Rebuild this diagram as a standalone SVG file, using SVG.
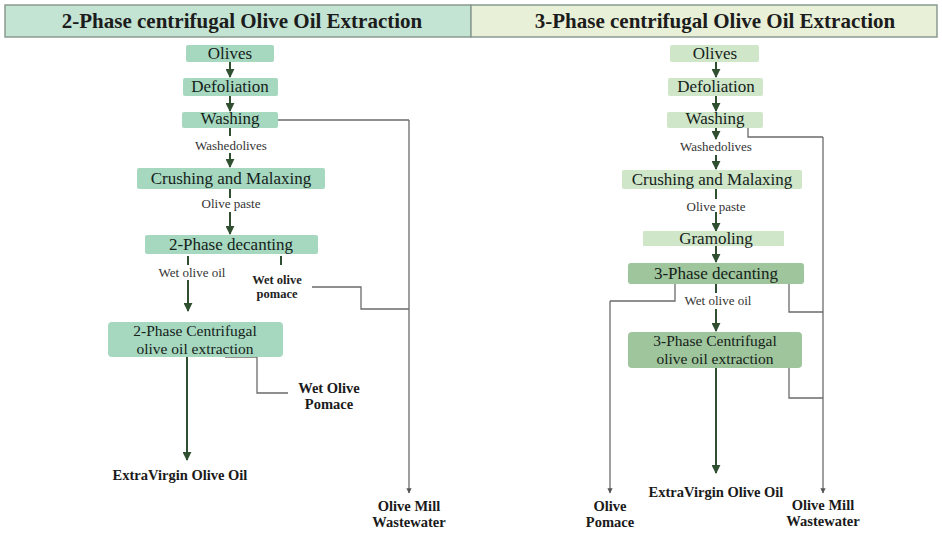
<svg xmlns="http://www.w3.org/2000/svg" width="942" height="533" viewBox="0 0 942 533">
<style>
.hdr{font-family:"Liberation Serif","Times New Roman",serif;font-weight:bold;font-size:21px;fill:#1c1c1c;text-anchor:middle}
.nt{font-family:"Liberation Serif","Times New Roman",serif;font-size:17px;fill:#15221a;text-anchor:middle}
.nt2{font-family:"Liberation Serif","Times New Roman",serif;font-size:15.5px;fill:#15221a;text-anchor:middle}
.lb{font-family:"Liberation Serif","Times New Roman",serif;font-size:13px;fill:#333;text-anchor:middle}
.lbb{font-family:"Liberation Serif","Times New Roman",serif;font-weight:bold;font-size:12.5px;fill:#222;text-anchor:middle}
.out{font-family:"Liberation Serif","Times New Roman",serif;font-weight:bold;font-size:14.5px;fill:#1a1a1a;text-anchor:middle}
.n2{fill:#a6d8c0}
.n3l{fill:#cfe6c9}
.n3d{fill:#9fc59c}
.arr{stroke:#2f4f30;stroke-width:2;fill:none;marker-end:url(#ah)}
.tick{stroke:#2f4f30;stroke-width:2;fill:none}
.gl{stroke:#6b6b6b;stroke-width:1.3;fill:none}
.gla{stroke:#6b6b6b;stroke-width:1.3;fill:none;marker-end:url(#ahs)}
</style>
<defs>
<marker id="ah" viewBox="0 0 10 10" refX="9" refY="5" markerWidth="4.5" markerHeight="4.5" orient="auto" markerUnits="strokeWidth">
<path d="M0,0 L10,5 L0,10 z" fill="#2f4f30"/>
</marker>
<marker id="ahs" viewBox="0 0 10 10" refX="9" refY="5" markerWidth="4" markerHeight="4" orient="auto" markerUnits="strokeWidth">
<path d="M0,0 L10,5 L0,10 z" fill="#555"/>
</marker>
</defs>
<rect width="942" height="533" fill="#ffffff"/>

<g id="header-2phase">
<rect x="5" y="5" width="466" height="32" fill="#c3e3d3" stroke="#8a9a90" stroke-width="1.5"/>
<text class="hdr" x="242" y="28">2-Phase centrifugal Olive Oil  Extraction</text>
</g>
<g id="header-3phase">
<rect x="471" y="5" width="466" height="32" fill="#e9f0d8" stroke="#8a9a90" stroke-width="1.5"/>
<text class="hdr" x="715" y="28">3-Phase centrifugal Olive Oil  Extraction</text>
</g>

<g id="connectors">
<path class="arr" d="M230,62 V77"/>
<path class="arr" d="M230,96 V111"/>
<path class="tick" d="M230,128 V136"/>
<path class="arr" d="M230,153 V167"/>
<path class="tick" d="M230,189 V198"/>
<path class="arr" d="M230,212 V234"/>
<path class="tick" d="M188,256 V265"/>
<path class="arr" d="M188,280 V311"/>
<path class="tick" d="M281,256 V265"/>
<path class="arr" d="M187,357 V460"/>
<path class="gl" d="M278,120 H409"/>
<path class="gla" d="M409,120 V493"/>
<path class="gl" d="M312,287 H361 V309 H409"/>
<path class="gl" d="M225,357 H257 V393 H288"/>
<path class="arr" d="M716,62 V77"/>
<path class="arr" d="M716,96 V111"/>
<path class="arr" d="M716,128 V139"/>
<path class="arr" d="M716,155 V169"/>
<path class="tick" d="M716,189 V199"/>
<path class="arr" d="M716,212 V231"/>
<path class="arr" d="M716,246 V262"/>
<path class="tick" d="M716,284 V293"/>
<path class="arr" d="M716,309 V331"/>
<path class="arr" d="M716,368 V473"/>
<path class="gl" d="M748,128 V137 H823"/>
<path class="gla" d="M823,137 V493"/>
<path class="gl" d="M675,284 V301 H610"/>
<path class="gla" d="M610,301 V493"/>
<path class="gl" d="M789,284 V312 H823"/>
<path class="gl" d="M789,368 V398 H823"/>
</g>

<g id="n2-olives"><rect class="n2" x="186" y="45" width="88" height="17" rx="2"/><text class="nt" x="230" y="59">Olives</text></g>
<g id="n2-defoliation"><rect class="n2" x="183" y="78" width="95" height="18" rx="2"/><text class="nt" x="230" y="92">Defoliation</text></g>
<g id="n2-washing"><rect class="n2" x="182" y="112" width="96" height="16" rx="2"/><text class="nt" x="230" y="124">Washing</text></g>
<g id="n2-washed-label"><text class="lb" x="231" y="150">Washedolives</text></g>
<g id="n2-crushing"><rect class="n2" x="137" y="168" width="188" height="21" rx="2"/><text class="nt" x="231" y="184">Crushing and Malaxing</text></g>
<g id="n2-paste-label"><text class="lb" x="231" y="208">Olive paste</text></g>
<g id="n2-decanting"><rect class="n2" x="145" y="235" width="173" height="19" rx="2"/><text class="nt" x="231" y="250">2-Phase decanting</text></g>
<g id="n2-wetoil-label"><text class="lb" x="192" y="277">Wet olive oil</text></g>
<g id="n2-wetpomace-label"><text class="lbb" x="277" y="284">Wet olive</text><text class="lbb" x="277" y="298">pomace</text></g>
<g id="n2-centrifugal"><rect class="n2" x="108" y="322" width="175" height="35" rx="4"/><text class="nt2" x="195" y="336">2-Phase Centrifugal</text><text class="nt2" x="195" y="354">olive oil extraction</text></g>
<g id="n2-wetolivepomace"><text class="out" x="329" y="393">Wet Olive</text><text class="out" x="329" y="409">Pomace</text></g>
<g id="n2-evoo"><text class="out" x="180" y="480">ExtraVirgin Olive Oil</text></g>
<g id="n2-omw"><text class="out" x="409" y="511">Olive Mill</text><text class="out" x="409" y="527">Wastewater</text></g>

<g id="n3-olives"><rect class="n3l" x="670" y="45" width="89" height="17" rx="2"/><text class="nt" x="715" y="59">Olives</text></g>
<g id="n3-defoliation"><rect class="n3l" x="668" y="78" width="95" height="18" rx="2"/><text class="nt" x="716" y="92">Defoliation</text></g>
<g id="n3-washing"><rect class="n3l" x="667" y="112" width="96" height="16" rx="2"/><text class="nt" x="715" y="124">Washing</text></g>
<g id="n3-washed-label"><text class="lb" x="716" y="151">Washedolives</text></g>
<g id="n3-crushing"><rect class="n3l" x="622" y="170" width="180" height="19" rx="2"/><text class="nt" x="712" y="185">Crushing and Malaxing</text></g>
<g id="n3-paste-label"><text class="lb" x="716" y="211">Olive paste</text></g>
<g id="n3-gramoling"><rect class="n3l" x="643" y="231" width="141" height="15" rx="1"/><text class="nt" x="716" y="244">Gramoling</text></g>
<g id="n3-decanting"><rect class="n3d" x="628" y="263" width="176" height="21" rx="3"/><text class="nt" x="716" y="279">3-Phase decanting</text></g>
<g id="n3-wetoil-label"><text class="lb" x="718" y="305">Wet olive oil</text></g>
<g id="n3-centrifugal"><rect class="n3d" x="628" y="332" width="174" height="36" rx="4"/><text class="nt2" x="715" y="346">3-Phase Centrifugal</text><text class="nt2" x="715" y="364">olive oil extraction</text></g>
<g id="n3-pomace"><text class="out" x="610" y="511">Olive</text><text class="out" x="610" y="527">Pomace</text></g>
<g id="n3-evoo"><text class="out" x="716" y="497">ExtraVirgin Olive Oil</text></g>
<g id="n3-omw"><text class="out" x="823" y="510">Olive Mill</text><text class="out" x="823" y="526">Wastewater</text></g>
</svg>
